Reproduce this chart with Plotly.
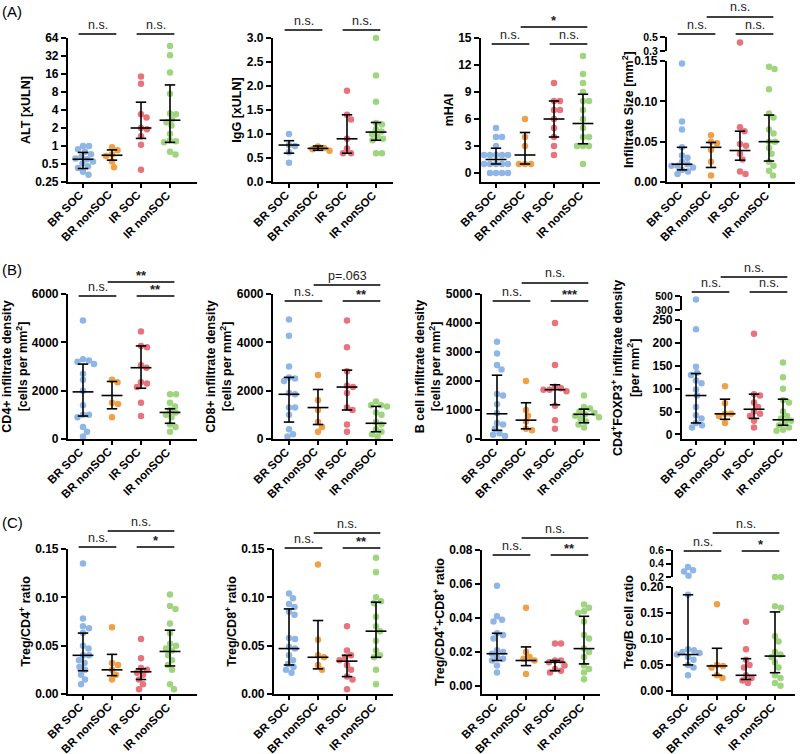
import numpy as np
import plotly.graph_objects as go

W, H = 800, 754
groups = ["BR SOC", "BR nonSOC", "IR SOC", "IR nonSOC"]
colors = ["#8fb6e6", "#f1a045", "#e8737c", "#9fd57f"]

# ---------------- data ----------------
alt_vals = [[1.0, 1.0, 0.88, 0.8, 0.73, 0.66, 0.62, 0.6, 0.55, 0.51, 0.46, 0.43, 0.37, 0.33],
            [0.95, 0.85, 0.72, 0.68, 0.55, 0.44],
            [14.5, 11, 3.4, 3.0, 2.0, 1.9, 1.45, 1.05, 0.4],
            [47, 33, 17, 7.5, 3.5, 3.4, 2.8, 2.2, 1.6, 1.25, 1.2, 1.15, 0.8, 0.72, 2.5]]
alt_med = [0.6, 0.7, 2.0, 2.7]
alt_q1 = [0.42, 0.58, 1.34, 1.15]
alt_q3 = [0.78, 0.86, 5.4, 10.5]

igg_vals = [[1.0, 0.77, 0.75, 0.62, 0.4],
            [0.74, 0.71, 0.68, 0.65],
            [1.9, 1.4, 1.3, 0.9, 0.7, 0.6, 0.6],
            [3.0, 2.22, 1.67, 1.23, 1.2, 1.1, 1.05, 1.0, 0.95, 0.9, 0.87, 0.6, 0.6]]
igg_med = [0.77, 0.7, 0.9, 1.04]
igg_q1 = [0.6, 0.66, 0.6, 0.87]
igg_q3 = [0.86, 0.75, 1.4, 1.24]

mhai_vals = [[5, 4, 4, 3, 2, 2, 2, 2, 2, 1, 1, 1, 1, 1, 0, 0, 0, 0],
             [6, 4, 3, 1, 1, 1],
             [10, 8, 8, 7, 7, 6, 5, 4, 3, 2],
             [13, 11, 10, 9, 8, 8, 7, 6, 5, 4, 4, 3, 3, 3, 1]]
mhai_med = [1.5, 2, 6, 5.5]
mhai_q1 = [1, 1, 4, 3.25]
mhai_q3 = [2.75, 4.5, 8, 8.75]

size_vals = [[0.147, 0.075, 0.065, 0.043, 0.033, 0.03, 0.025, 0.022, 0.02, 0.02, 0.018, 0.015, 0.013, 0.01],
             [0.058, 0.05, 0.048, 0.04, 0.025, 0.008],
             [0.42, 0.068, 0.063, 0.047, 0.045, 0.035, 0.028, 0.013, 0.01],
             [0.143, 0.14, 0.115, 0.085, 0.08, 0.065, 0.06, 0.05, 0.05, 0.042, 0.035, 0.025, 0.02, 0.014, 0.008]]
size_med = [0.022, 0.043, 0.039, 0.05]
size_q1 = [0.015, 0.018, 0.027, 0.026]
size_q3 = [0.043, 0.049, 0.063, 0.083]

cd4_vals = [[4900, 3300, 3250, 3200, 3100, 2700, 2450, 2000, 1400, 1000, 1000, 900, 500, 300, 100],
            [2450, 2350, 1500, 1450, 900],
            [4450, 3850, 3800, 3050, 2950, 2350, 2300, 2150, 1500, 950],
            [1850, 1850, 1500, 1350, 1200, 1100, 1000, 900, 600, 500, 300]]
cd4_med = [1950, 1800, 2950, 1100]
cd4_q1 = [950, 1250, 2100, 650]
cd4_q3 = [3100, 2380, 3850, 1250]

cd8_vals = [[4950, 4270, 3000, 2550, 2500, 2400, 1900, 1850, 1300, 1300, 1000, 400, 200, 100],
            [2650, 1600, 1200, 700, 500, 300],
            [4900, 3800, 2800, 2200, 2150, 1900, 1300, 1200, 600, 300],
            [1550, 1400, 1400, 1350, 1100, 1000, 700, 600, 400, 300, 200, 100]]
cd8_med = [1850, 1300, 2150, 650]
cd8_q1 = [700, 600, 1200, 300]
cd8_q3 = [2550, 2050, 2850, 1350]

bcell_vals = [[3350, 2950, 2550, 2400, 1550, 1500, 1200, 900, 550, 500, 350, 200, 150, 100],
              [2000, 1000, 800, 600, 350, 300],
              [4000, 2550, 1800, 1750, 1700, 1700, 1650, 1150, 650, 350],
              [1500, 1100, 1050, 950, 900, 850, 800, 750, 700, 600, 500, 400]]
bcell_med = [870, 650, 1700, 850]
bcell_q1 = [300, 350, 1180, 560]
bcell_q3 = [2200, 1250, 1870, 1030]

foxp3_vals = [[450, 230, 148, 135, 130, 118, 112, 98, 85, 60, 42, 35, 25, 20, 15],
              [105, 68, 45, 45, 40, 25],
              [220, 88, 85, 70, 60, 50, 45, 40, 30, 15],
              [157, 125, 100, 75, 70, 50, 40, 35, 30, 25, 20, 15, 10, 8]]
foxp3_med = [85, 45, 55, 32]
foxp3_q1 = [25, 33, 35, 20]
foxp3_q3 = [133, 77, 88, 77]

tcd4_vals = [[0.135, 0.078, 0.07, 0.068, 0.063, 0.05, 0.047, 0.04, 0.04, 0.035, 0.032, 0.028, 0.025, 0.02, 0.015, 0.01],
             [0.069, 0.032, 0.03, 0.025, 0.02, 0.015],
             [0.057, 0.037, 0.027, 0.025, 0.022, 0.02, 0.015, 0.01, 0.005],
             [0.103, 0.091, 0.088, 0.073, 0.063, 0.052, 0.05, 0.047, 0.045, 0.04, 0.035, 0.03, 0.025, 0.01, 0.005]]
tcd4_med = [0.04, 0.025, 0.023, 0.044]
tcd4_q1 = [0.024, 0.019, 0.015, 0.029]
tcd4_q3 = [0.063, 0.041, 0.026, 0.066]

tcd8_vals = [[0.104, 0.099, 0.093, 0.09, 0.085, 0.082, 0.058, 0.057, 0.049, 0.047, 0.04, 0.035, 0.031, 0.028, 0.025, 0.022],
             [0.134, 0.056, 0.04, 0.038, 0.03, 0.025],
             [0.07, 0.045, 0.04, 0.038, 0.035, 0.03, 0.025, 0.018, 0.015, 0.005],
             [0.141, 0.126, 0.1, 0.096, 0.094, 0.08, 0.07, 0.065, 0.055, 0.045, 0.04, 0.038, 0.025, 0.01]]
tcd8_med = [0.047, 0.038, 0.034, 0.065]
tcd8_q1 = [0.03, 0.026, 0.018, 0.038]
tcd8_q3 = [0.088, 0.076, 0.04, 0.095]

tcd48_vals = [[0.059, 0.041, 0.039, 0.038, 0.031, 0.03, 0.028, 0.021, 0.02, 0.019, 0.017, 0.016, 0.015, 0.012, 0.008],
              [0.046, 0.02, 0.017, 0.016, 0.015, 0.007],
              [0.025, 0.025, 0.015, 0.015, 0.014, 0.012, 0.01, 0.009, 0.008],
              [0.048, 0.046, 0.044, 0.043, 0.038, 0.03, 0.028, 0.022, 0.02, 0.017, 0.012, 0.01, 0.008, 0.004]]
tcd48_med = [0.019, 0.015, 0.014, 0.022]
tcd48_q1 = [0.015, 0.012, 0.009, 0.013]
tcd48_q3 = [0.031, 0.023, 0.015, 0.041]

tb_vals = [[0.35, 0.3, 0.28, 0.22, 0.185, 0.08, 0.078, 0.075, 0.073, 0.07, 0.065, 0.06, 0.05, 0.045, 0.03],
           [0.167, 0.05, 0.048, 0.045, 0.03, 0.025],
           [0.133, 0.08, 0.06, 0.05, 0.045, 0.03, 0.025, 0.02, 0.015],
           [0.2, 0.2, 0.163, 0.16, 0.105, 0.095, 0.075, 0.07, 0.065, 0.055, 0.045, 0.03, 0.025, 0.015, 0.01]]
tb_med = [0.07, 0.048, 0.03, 0.067]
tb_q1 = [0.05, 0.03, 0.022, 0.035]
tb_q3 = [0.185, 0.082, 0.062, 0.152]

# ---------------- panel layout (pixels) ----------------
panels = [
    dict(vals=alt_vals, med=alt_med, q1=alt_q1, q3=alt_q3, title="ALT [xULN]",
         x0=68, x1=197, c0=83, top=38, bot=182, rng=[0.25, 64], log=True,
         tv=[0.25, 0.5, 1, 2, 4, 8, 16, 32, 64], tt=["0.25", "0.5", "1", "2", "4", "8", "16", "32", "64"],
         br=[(0, 1, "n.s.", 34), (2, 3, "n.s.", 34)]),
    dict(vals=igg_vals, med=igg_med, q1=igg_q1, q3=igg_q3, title="IgG [xULN]",
         x0=273, x1=393, c0=289, top=38, bot=182, rng=[0, 3],
         tv=[0, 0.5, 1, 1.5, 2, 2.5, 3], tt=["0.0", "0.5", "1.0", "1.5", "2.0", "2.5", "3.0"],
         br=[(0, 1, "n.s.", 30), (2, 3, "n.s.", 30)]),
    dict(vals=mhai_vals, med=mhai_med, q1=mhai_q1, q3=mhai_q3, title="mHAI",
         x0=481, x1=600, c0=496, top=38, bot=182, rng=[-1, 15],
         tv=[0, 3, 6, 9, 12, 15], tt=["0", "3", "6", "9", "12", "15"],
         br=[(0, 1, "n.s.", 44), (2, 3, "n.s.", 44), (1, 3, "*", 27)]),
    dict(vals=size_vals, med=size_med, q1=size_q1, q3=size_q3, title="Infiltrate Size [mm<sup>2</sup>]",
         x0=667, x1=795, c0=682, top=61, bot=182, rng=[0, 0.15],
         tv=[0, 0.05, 0.1, 0.15], tt=["0.00", "0.05", "0.10", "0.15"],
         up=dict(rng=[0.3, 0.5], top=37, bot=51, tv=[0.3, 0.5], tt=["0.3", "0.5"]), tpos=(628, 110),
         br=[(0, 1, "n.s.", 34), (2, 3, "n.s.", 34), (1, 3, "n.s.", 17)]),
    dict(vals=cd4_vals, med=cd4_med, q1=cd4_q1, q3=cd4_q3, title="CD4+ infiltrate density<br>[cells per mm<sup>2</sup>]",
         x0=68, x1=197, c0=83, top=294, bot=439, rng=[0, 6000],
         tv=[0, 2000, 4000, 6000], tt=["0", "2000", "4000", "6000"],
         br=[(0, 1, "n.s.", 296), (2, 3, "**", 296), (1, 3, "**", 282)]),
    dict(vals=cd8_vals, med=cd8_med, q1=cd8_q1, q3=cd8_q3, title="CD8+ infiltrate density<br>[cells per mm<sup>2</sup>]",
         x0=273, x1=393, c0=289, top=294, bot=439, rng=[0, 6000],
         tv=[0, 2000, 4000, 6000], tt=["0", "2000", "4000", "6000"],
         br=[(0, 1, "n.s.", 301), (2, 3, "**", 301), (1, 3, "p=.063", 285)]),
    dict(vals=bcell_vals, med=bcell_med, q1=bcell_q1, q3=bcell_q3, title="B cell infiltrate density<br>[cells per mm<sup>2</sup>]",
         x0=482, x1=600, c0=497, top=294, bot=439, rng=[0, 5000],
         tv=[0, 1000, 2000, 3000, 4000, 5000], tt=["0", "1000", "2000", "3000", "4000", "5000"],
         br=[(0, 1, "n.s.", 301), (2, 3, "***", 301), (1, 3, "n.s.", 283)]),
    dict(vals=foxp3_vals, med=foxp3_med, q1=foxp3_q1, q3=foxp3_q3,
         title="CD4<sup>+</sup>FOXP3<sup>+</sup> infiltrate density<br>[per mm<sup>2</sup>]",
         x0=682, x1=797, c0=696, top=320, bot=439, rng=[-10, 250],
         tv=[0, 50, 100, 150, 200, 250], tt=["0", "50", "100", "150", "200", "250"],
         up=dict(rng=[300, 500], top=296, bot=310, tv=[300, 500], tt=["300", "500"]), tpos=(626, 368),
         br=[(0, 1, "n.s.", 292), (2, 3, "n.s.", 292), (1, 3, "n.s.", 277)]),
    dict(vals=tcd4_vals, med=tcd4_med, q1=tcd4_q1, q3=tcd4_q3, title="Treg/CD4<sup>+</sup> ratio",
         x0=68, x1=197, c0=83, top=549, bot=694, rng=[0, 0.15],
         tv=[0, 0.05, 0.1, 0.15], tt=["0.00", "0.05", "0.10", "0.15"],
         br=[(0, 1, "n.s.", 547), (2, 3, "*", 547), (1, 3, "n.s.", 531)]),
    dict(vals=tcd8_vals, med=tcd8_med, q1=tcd8_q1, q3=tcd8_q3, title="Treg/CD8<sup>+</sup> ratio",
         x0=274, x1=393, c0=289, top=549, bot=694, rng=[0, 0.15],
         tv=[0, 0.05, 0.1, 0.15], tt=["0.00", "0.05", "0.10", "0.15"],
         br=[(0, 1, "n.s.", 548), (2, 3, "**", 548), (1, 3, "n.s.", 533)]),
    dict(vals=tcd48_vals, med=tcd48_med, q1=tcd48_q1, q3=tcd48_q3, title="Treg/CD4<sup>+</sup>+CD8<sup>+</sup> ratio",
         x0=482, x1=600, c0=497, top=550, bot=694, rng=[-0.0047, 0.08],
         tv=[0, 0.02, 0.04, 0.06, 0.08], tt=["0.00", "0.02", "0.04", "0.06", "0.08"],
         br=[(0, 1, "n.s.", 555), (2, 3, "**", 555), (1, 3, "n.s.", 538)]),
    dict(vals=tb_vals, med=tb_med, q1=tb_q1, q3=tb_q3, title="Treg/B cell ratio",
         x0=673, x1=795, c0=688, top=587, bot=694, rng=[-0.006, 0.2],
         tv=[0, 0.05, 0.1, 0.15, 0.2], tt=["0.00", "0.05", "0.10", "0.15", "0.20"],
         up=dict(rng=[0.2, 0.6], top=550, bot=577, tv=[0.2, 0.4, 0.6], tt=["0.2", "0.4", "0.6"]), tpos=(629, 622),
         br=[(0, 1, "n.s.", 551), (2, 3, "*", 551), (1, 3, "n.s.", 533)]),
]

SP = 29.0  # px per category
FONT = "Arial, Liberation Sans, sans-serif"
TITLE_FONT = dict(family=FONT, size=12.5, color="black", weight="bold")
XLAB_FONT = dict(family=FONT, size=11.5, color="black", weight="bold")


def py(p):
    return 1 - p / H


def ypx(v, cfg):
    up = cfg.get("up")
    if up is not None and v >= up["rng"][0]:
        lo, hi = up["rng"]; t, b = up["top"], up["bot"]
        f = (v - lo) / (hi - lo)
    else:
        lo, hi = cfg["rng"]; t, b = cfg["top"], cfg["bot"]
        if cfg.get("log"):
            f = (np.log2(v) - np.log2(lo)) / (np.log2(hi) - np.log2(lo))
        else:
            f = (v - lo) / (hi - lo)
    return b - f * (b - t)


def swarm(yp, diam=6.0, step=0.5):
    offs = [0.0] * len(yp)
    placed = []
    for i in sorted(range(len(yp)), key=lambda k: yp[k]):
        y = yp[i]
        k = 0
        found = None
        while found is None:
            cands = [0.0] if k == 0 else [k * step, -k * step]
            for c in cands:
                if all((c - ox) ** 2 + (y - oy) ** 2 >= diam ** 2 for ox, oy in placed):
                    found = c
                    break
            k += 1
        offs[i] = found
        placed.append((found, y))
    return offs


fig = go.Figure()
layout = dict(width=W, height=H, margin=dict(l=0, r=0, t=0, b=0, autoexpand=False),
              paper_bgcolor="white", plot_bgcolor="white", showlegend=False, template="none",
              font=dict(family=FONT, color="black"))
shapes, annos = [], []
extra = 13

axis_common = dict(showline=True, linecolor="black", linewidth=2.2, ticks="outside", automargin=False,
                   ticklen=5, tickwidth=2, tickcolor="black", showgrid=False, zeroline=False,
                   tickfont=dict(family=FONT, size=12, color="black", weight="bold"))

for n, cfg in enumerate(panels, start=1):
    xa, ya = f"x{n}", f"y{n}"
    lo_x = -(cfg["c0"] - cfg["x0"]) / SP
    hi_x = (cfg["x1"] - cfg["c0"]) / SP
    layout[f"xaxis{n}"] = dict(axis_common, domain=[cfg["x0"] / W, cfg["x1"] / W], range=[lo_x, hi_x],
                               anchor=ya, tickvals=[0, 1, 2, 3], showticklabels=False, ticklen=4)
    # category labels, rotated, anchored at their tick
    for g, name in enumerate(groups):
        annos.append(dict(text=name, xref=xa, yref="paper", x=g + 5 / SP, y=py(cfg["bot"] + 4),
                          xanchor="right", yanchor="top", textangle=-45, showarrow=False,
                          font=XLAB_FONT))
    yr = [np.log10(cfg["rng"][0]), np.log10(cfg["rng"][1])] if cfg.get("log") else cfg["rng"]
    ydict = dict(axis_common, domain=[py(cfg["bot"]), py(cfg["top"])], range=yr,
                 type="log" if cfg.get("log") else "linear", anchor=xa,
                 tickvals=cfg["tv"], ticktext=cfg["tt"])
    if "tpos" in cfg:
        tx, ty = cfg["tpos"]
        annos.append(dict(text=cfg["title"], xref="paper", yref="paper", x=tx / W, y=py(ty),
                          xanchor="center", yanchor="middle", textangle=-90, showarrow=False,
                          font=TITLE_FONT))
    else:
        ydict["title"] = dict(text=cfg["title"], standoff=2, font=TITLE_FONT)
    layout[f"yaxis{n}"] = ydict
    up = cfg.get("up")
    ua = None
    if up is not None:
        ua = f"y{extra}"
        layout[f"yaxis{extra}"] = dict(axis_common, domain=[py(up["bot"]), py(up["top"])], range=up["rng"],
                                       anchor=xa, tickvals=up["tv"], ticktext=up["tt"],
                                       tickfont=dict(family=FONT, size=10.5, color="black", weight="bold"))
        extra += 1

    for g in range(4):
        vals = cfg["vals"][g]
        yp = [ypx(v, cfg) for v in vals]
        offs = swarm(yp)
        xs = [g + o / SP for o in offs]
        if up is not None:
            lo_i = [i for i, v in enumerate(vals) if v < up["rng"][0]]
            hi_i = [i for i, v in enumerate(vals) if v >= up["rng"][0]]
        else:
            lo_i, hi_i = list(range(len(vals))), []
        fig.add_trace(go.Scatter(x=[xs[i] for i in lo_i], y=[vals[i] for i in lo_i], mode="markers",
                                 xaxis=xa, yaxis=ya, cliponaxis=False,
                                 marker=dict(size=6.5, color=colors[g], line=dict(width=0))))
        if hi_i:
            fig.add_trace(go.Scatter(x=[xs[i] for i in hi_i], y=[vals[i] for i in hi_i], mode="markers",
                                     xaxis=xa, yaxis=ua, cliponaxis=False,
                                     marker=dict(size=6.5, color=colors[g], line=dict(width=0))))
    # median + IQR
    ex, ey = [], []
    for g in range(4):
        m, a, b = cfg["med"][g], cfg["q1"][g], cfg["q3"][g]
        ex += [g - 0.36, g + 0.36, None, g, g, None, g - 0.18, g + 0.18, None, g - 0.18, g + 0.18, None]
        ey += [m, m, None, a, b, None, a, a, None, b, b, None]
    fig.add_trace(go.Scatter(x=ex, y=ey, mode="lines", xaxis=xa, yaxis=ya, cliponaxis=False,
                             line=dict(color="black", width=1.6)))
    # significance brackets
    for (i, j, lab, yb) in cfg["br"]:
        shapes.append(dict(type="line", xref=xa, yref="paper", x0=i - 0.15, x1=j + 0.15,
                           y0=py(yb), y1=py(yb), line=dict(color="black", width=1.6)))
        star = "*" in lab
        annos.append(dict(text=lab, xref=xa, yref="paper", x=(i + j) / 2,
                          y=py(yb - (-3 if star else 0.5)), yanchor="bottom", showarrow=False,
                          font=dict(family=FONT, size=13 if star else 12.5, color="#222"
                                    , weight="bold" if star else "normal")))

for lab, yy in [("(A)", 12), ("(B)", 270), ("(C)", 522)]:
    annos.append(dict(text=lab, xref="paper", yref="paper", x=0.0, y=py(yy), xanchor="left",
                      yanchor="middle", showarrow=False, font=dict(family=FONT, size=15, color="black")))

layout["shapes"] = shapes
layout["annotations"] = annos
fig.update_layout(**layout)
fig.write_html("out.html", config={"responsive": False, "displayModeBar": False},
               post_script="document.body.style.margin='0';document.body.style.overflow='hidden';"
                           "document.documentElement.style.overflow='hidden';")
